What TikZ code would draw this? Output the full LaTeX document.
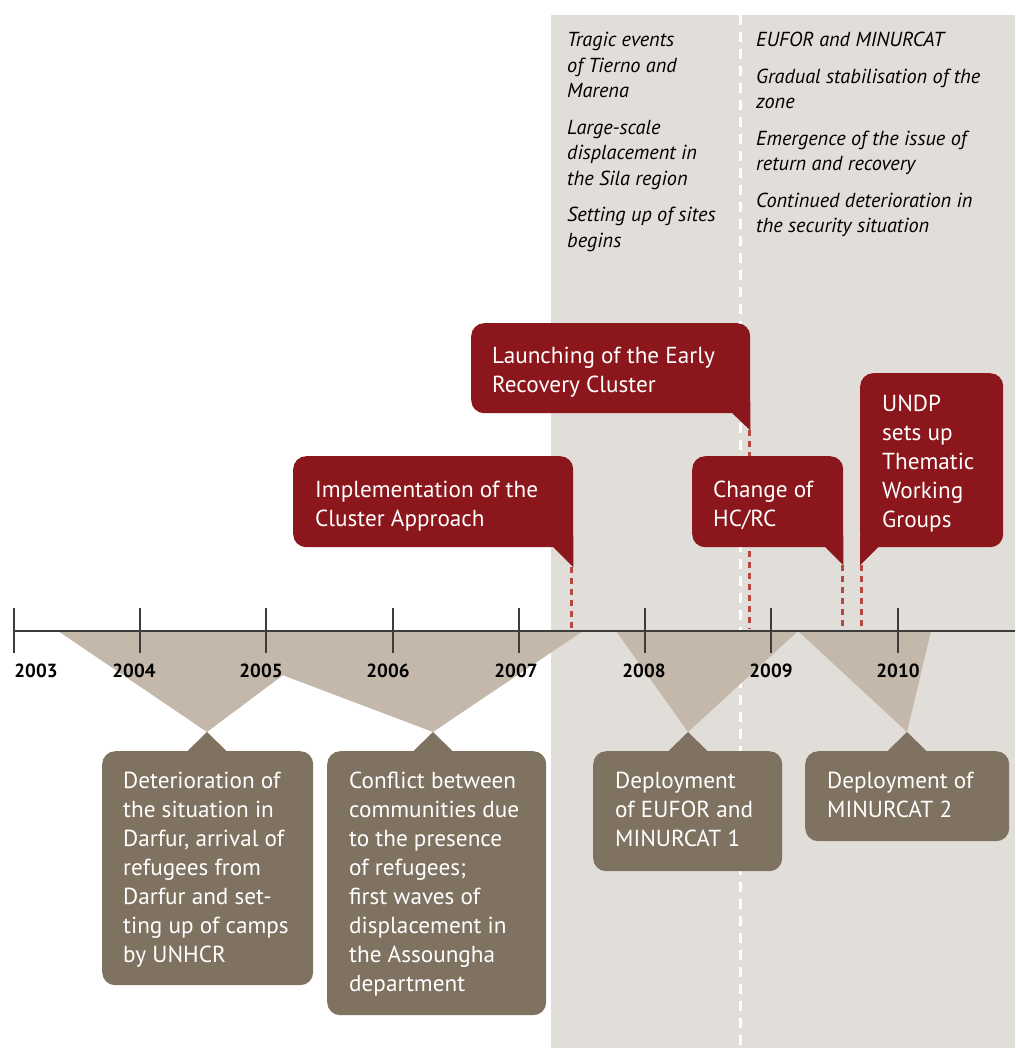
\documentclass[tikz,border=0pt]{standalone}
\usepackage{fontspec}
\setmainfont{PT Sans}
\usetikzlibrary{calc}
\definecolor{panelc}{HTML}{E1DDD9}
\definecolor{tanc}{HTML}{C3B8AA}
\definecolor{brownc}{HTML}{7F7260}
\definecolor{redc}{HTML}{8B161B}
\definecolor{dashc}{HTML}{B5493F}
\definecolor{axisc}{HTML}{3C3C3C}
\begin{document}
\begin{tikzpicture}[x=1pt,y=-1pt,
  callout/.style={fill=redc, rounded corners=13, anchor=north west, inner sep=0},
  evbox/.style={fill=brownc, rounded corners=13, anchor=north west, inner sep=0},
  boxtext/.style={text=white, anchor=base west, inner sep=0, align=left, font=\fontsize{23.2}{29}\selectfont},
  year/.style={font=\bfseries\fontsize{19}{22}\selectfont, inner sep=0},
  tick/.style={axisc, line width=1.4},
  reddash/.style={dashc, line width=3, dash pattern=on 6 off 5},
  note/.style={anchor=north west, inner sep=0, align=left, font=\itshape\fontsize{20.3}{25.5}\selectfont}
]
\useasboundingbox (0,0) rectangle (1015,1048);
% panel
\fill[panelc] (551,15) rectangle (1015,1048);
\coordinate (wtop) at (740,15);
\coordinate (wbot) at (740,1048);
\draw[white, line width=3, dash pattern=on 10 off 7] (wtop) -- (wbot);
% notes
\node[note] (colL) at (567,32) {Tragic events\\of Tierno and\\Marena\\[11pt]Large-scale\\displacement in\\the Sila region\\[11pt]Setting up of sites\\begins};
\node[note] (colR) at (756,32) {EUFOR and MINURCAT\\[11pt]Gradual stabilisation of the\\zone\\[11pt]Emergence of the issue of\\return and recovery\\[11pt]Continued deterioration in\\the security situation};
% triangles
\fill[tanc] (58,631) -- (342,631) -- (207,732) -- cycle;
\fill[tanc] (166,631) -- (583,631) -- (433,732) -- cycle;
\fill[tanc] (616,631) -- (798,631) -- (688,732) -- cycle;
\fill[tanc] (798,631) -- (931,631) -- (907,732) -- cycle;
% axis
\coordinate (a0) at (14,631);
\coordinate (a1) at (1015,631);
\draw[axisc, line width=2] (a0) -- (a1);
\foreach \x in {14,140,266,393,519,645,771,898}{
  \draw[tick] (\x,608) -- (\x,653);
}
\node[year] (y2003) at (36,671) {2003};
\node[year] (y2004) at (134,671) {2004};
\node[year] (y2005) at (261,671) {2005};
\node[year] (y2006) at (388,671) {2006};
\node[year] (y2007) at (516,671) {2007};
\node[year] (y2008) at (644,671) {2008};
\node[year] (y2009) at (771,671) {2009};
\node[year] (y2010) at (898,671) {2010};
% red dashed connectors
\coordinate (tA) at (571,567); \coordinate (tA0) at (571,629);
\coordinate (tB) at (749,430); \coordinate (tB0) at (749,629);
\coordinate (tC) at (842,565); \coordinate (tC0) at (842,629);
\coordinate (tD) at (861,565); \coordinate (tD0) at (861,629);
\draw[reddash] (tA) -- (tA0);
\draw[reddash] (tB) -- (tB0);
\draw[reddash] (tC) -- (tC0);
\draw[reddash] (tD) -- (tD0);
% callouts
\node[callout, minimum width=279, minimum height=90] (cB) at (471,323) {};
\fill[redc] (cB.south east) ++(-18,-12) -- ++(18,0) -- ++(0,29) -- ++(-18,-17) -- cycle;
\node[boxtext] (cBt) at (492,392.5) {Launching of the Early\\Recovery Cluster};
\node[callout, minimum width=280, minimum height=91] (cA) at (293,456) {};
\fill[redc] (cA.south east) ++(-20,-12) -- ++(20,0) -- ++(0,32) -- ++(-20,-20) -- cycle;
\node[boxtext] (cAt) at (315,526) {Implementation of the\\Cluster Approach};
\node[callout, minimum width=151, minimum height=91] (cC) at (692,456) {};
\fill[redc] (cC.south east) ++(-18,-12) -- ++(18,0) -- ++(0,30) -- ++(-18,-18) -- cycle;
\node[boxtext] (cCt) at (713,526) {Change of\\HC/RC};
\node[callout, minimum width=143, minimum height=174] (cD) at (860,373) {};
\fill[redc] (cD.south west) ++(18,-12) -- ++(-18,0) -- ++(0,30) -- ++(18,-18) -- cycle;
\node[boxtext] (cDt) at (882,527) {UNDP\\sets up\\Thematic\\Working\\Groups};
% bottom event boxes
\node[evbox, minimum width=211, minimum height=234] (e1) at (102,751) {};
\fill[brownc] (207,732) -- (227,751.5) -- (187,751.5) -- cycle;
\node[boxtext] (e1t) at (123,962) {Deterioration of\\the situation in\\Darfur, arrival of\\refugees from\\Darfur and set-\\ting up of camps\\by UNHCR};
\node[evbox, minimum width=219, minimum height=264] (e2) at (327,751) {};
\fill[brownc] (433,732) -- (453,751.5) -- (413,751.5) -- cycle;
\node[boxtext] (e2t) at (349,991) {Conflict between\\communities due\\to the presence\\of refugees;\\first waves of\\displacement in\\the Assoungha\\department};
\node[evbox, minimum width=189, minimum height=120] (e3) at (593,751) {};
\fill[brownc] (688,732) -- (708,751.5) -- (668,751.5) -- cycle;
\node[boxtext] (e3t) at (615,846) {Deployment\\of EUFOR and\\MINURCAT 1};
\node[evbox, minimum width=204, minimum height=90] (e4) at (805,751) {};
\fill[brownc] (907,732) -- (927,751.5) -- (887,751.5) -- cycle;
\node[boxtext] (e4t) at (827,817) {Deployment of\\MINURCAT 2};
\end{tikzpicture}
\end{document}
